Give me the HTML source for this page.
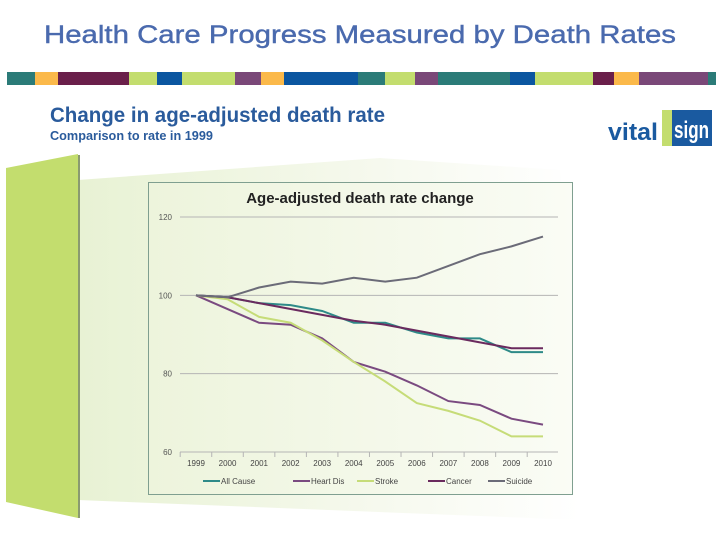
<!DOCTYPE html>
<html><head><meta charset="utf-8"><style>
body{margin:0;width:720px;height:540px;background:#fff;overflow:hidden;font-family:"Liberation Sans",sans-serif;position:relative}
.abs{position:absolute}
</style></head><body>
<svg class="abs" style="left:0;top:0" width="720" height="540">
<defs>
<linearGradient id="bg" x1="0" x2="1" y1="0" y2="0"><stop offset="0" stop-color="#e8f2d4"/><stop offset="0.6" stop-color="#f6f9ee"/><stop offset="1" stop-color="#fff"/></linearGradient>
<linearGradient id="cb" x1="0" x2="1" y1="0" y2="0"><stop offset="0" stop-color="#edf4dc"/><stop offset="1" stop-color="#fafcf5"/></linearGradient>
</defs>
<text x="44" y="43" font-size="25" fill="#4a6aae" stroke="#4a6aae" stroke-width="0.4" textLength="632" lengthAdjust="spacingAndGlyphs">Health Care Progress Measured by Death Rates</text>
<g id="colorbar"></g>
<polygon points="78,180 380,158 560,170 580,520 78,500" fill="url(#bg)"/>
<polygon points="6,168 78,154 78,518 6,502" fill="#c3dd6e"/>
<line x1="79" y1="155" x2="79" y2="518" stroke="#8a9a70" stroke-width="2"/>
<text x="50" y="122" font-size="21" font-weight="bold" fill="#2a5b9c" textLength="335" lengthAdjust="spacingAndGlyphs">Change in age-adjusted death rate</text>
<text x="50" y="140" font-size="13" font-weight="bold" fill="#2a5b9c" textLength="163" lengthAdjust="spacingAndGlyphs">Comparison to rate in 1999</text>
<g>
<text x="608" y="140" font-size="24" font-weight="bold" fill="#1a5aa0" textLength="50" lengthAdjust="spacingAndGlyphs">vital</text>
<rect x="662" y="110" width="50" height="36" fill="#1a5aa0"/>
<rect x="662" y="110" width="10" height="36" fill="#c3dd6e"/>
<text x="674" y="138" font-size="24" font-weight="bold" fill="#fff" textLength="35" lengthAdjust="spacingAndGlyphs">sign</text>
</g>
<rect x="148.5" y="182.5" width="424" height="312" fill="url(#cb)" stroke="#7f9f90"/>
<text x="360" y="203" text-anchor="middle" font-size="15" font-weight="bold" fill="#222">Age-adjusted death rate change</text>
<g id="plot"></g>
</svg>
<script>
const bar=[[7,35,'#2b7b78'],[35,58,'#fbb94a'],[58,129,'#6a1f4a'],[129,157,'#c3dd6e'],[157,182,'#0b56a0'],[182,235,'#c3dd6e'],[235,261,'#7a4878'],[261,284,'#fbb94a'],[284,358,'#0b56a0'],[358,385,'#2b7b78'],[385,415,'#c3dd6e'],[415,438,'#7a4878'],[438,510,'#2b7b78'],[510,535,'#0b56a0'],[535,593,'#c3dd6e'],[593,614,'#6a1f4a'],[614,639,'#fbb94a'],[639,708,'#7a4878'],[708,716,'#2b7b78']];
const NS='http://www.w3.org/2000/svg';
const cbg=document.getElementById('colorbar');
bar.forEach(b=>{const r=document.createElementNS(NS,'rect');r.setAttribute('x',b[0]);r.setAttribute('y',72);r.setAttribute('width',b[1]-b[0]);r.setAttribute('height',13);r.setAttribute('fill',b[2]);


cbg.appendChild(r);});

const years=['1999','2000','2001','2002','2003','2004','2005','2006','2007','2008','2009','2010'];
const yTicks=[60,80,100,120];
const seriesNames=['All Cause','Heart Dis','Stroke','Cancer','Suicide'];
const allCause=[100,99.5,98,97.5,96,93,93,90.5,89,89,85.5,85.5];
const heartDis=[100,96.5,93,92.5,89,83,80.5,77,73,72,68.5,67];
const stroke=[100,99,94.5,93,88.5,83,78,72.5,70.5,68,64,64];
const cancer=[100,99.5,98,96.5,95,93.5,92.5,91,89.5,88,86.5,86.5];
const suicide=[100,99.5,102,103.5,103,104.5,103.5,104.5,107.5,110.5,112.5,115];
const colors=['#2e8a88','#7a4a80','#c6dc78','#6a2a5e','#6b6b78'];
const values=[allCause,heartDis,stroke,cancer,suicide];

const g=document.getElementById('plot');
const X=i=>196+i*(543-196)/11;
const Y=v=>452-(v-60)*(452-217)/60;
function el(t,a,txt){const e=document.createElementNS(NS,t);for(const k in a)e.setAttribute(k,a[k]);if(txt!=null)e.textContent=txt;g.appendChild(e);return e;}
yTicks.forEach(t=>{
 const l=el('line',{x1:180,x2:558,y1:Y(t),y2:Y(t),stroke:'#b5b5b5','stroke-width':1});
 
 
 const tx=el('text',{x:172,y:Y(t)+3,'text-anchor':'end','font-size':8,fill:'#555'},t);
 
 
});
years.forEach((y,i)=>{
 const tk=el('line',{x1:X(i)-15.8,x2:X(i)-15.8,y1:452,y2:457,stroke:'#b5b5b5'});
 
 
 const tx=el('text',{x:X(i),y:466,'text-anchor':'middle','font-size':8,fill:'#444'},y);
 
 
});
values.forEach((s,k)=>{
 const p=el('polyline',{points:s.map((v,i)=>X(i)+','+Y(v)).join(' '),fill:'none',stroke:colors[k],'stroke-width':2});
 
 
});
const lx=[203,293,357,428,488];
seriesNames.forEach((n,k)=>{
 const l=el('line',{x1:lx[k],x2:lx[k]+17,y1:481,y2:481,stroke:colors[k],'stroke-width':2});
 
 
 const t=el('text',{x:lx[k]+18,y:484,'font-size':8,fill:'#444'},n);
 
 
});
</script>
</body></html>
